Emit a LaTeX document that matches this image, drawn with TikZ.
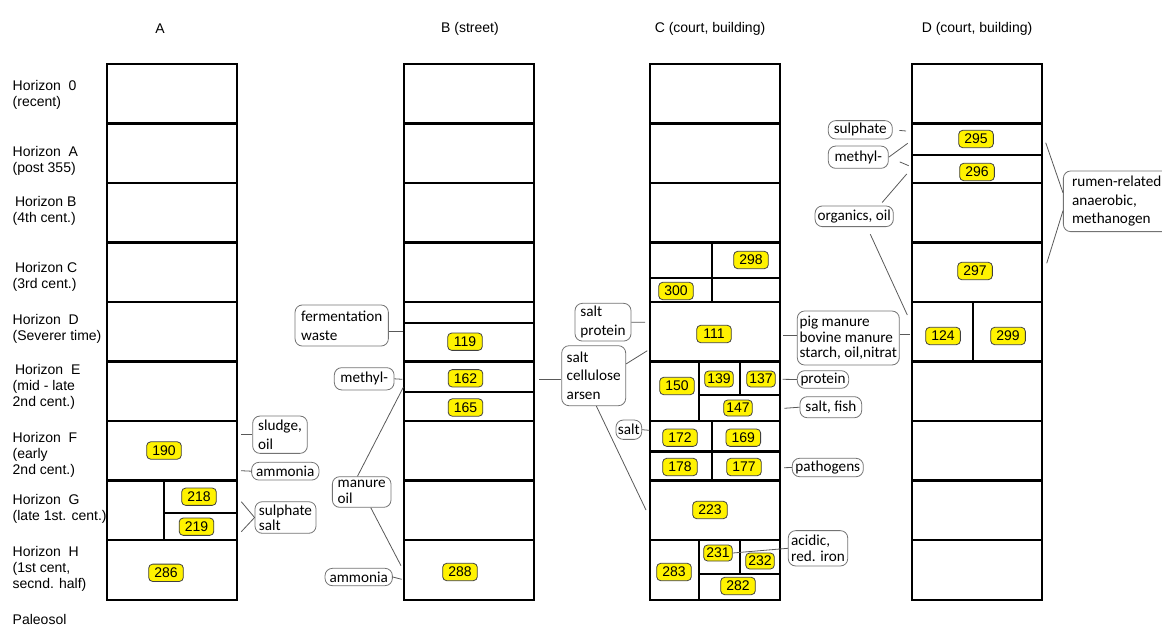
\documentclass[tikz,border=0pt]{standalone}
\usepackage{fontspec}
\setmainfont{Liberation Sans}
\newfontfamily\calib{Carlito}
\usepackage{tikz}

\begin{document}
\begin{tikzpicture}[x=0.75pt,y=-0.75pt,font=\fontsize{10.5}{12}\selectfont,
  col/.style={line width=2.1pt},
  num/.style={draw=black!75,fill=yellow,rounded corners=3pt,line width=0.6pt,minimum width=26pt,minimum height=13pt,inner sep=0pt},
  smallnum/.style={num,minimum width=21.5pt,minimum height=12pt},
  bubble/.style={draw=black!55,line width=0.6pt,rounded corners=5.5pt,align=left,inner sep=2pt,font=\calib\fontsize{11.4}{14}\selectfont},
  tightbubble/.style={bubble,font=\calib\fontsize{11.4}{11.5}\selectfont},
  wire/.style={black!65,line width=0.6pt}]
\useasboundingbox (0,0) rectangle (1162,628);

\node (hA) at (160,29) {A};
\node (hB) at (470,29) {B (street)};
\node (hC) at (710,29) {C (court, building)};
\node (hD) at (977,29) {D (court, building)};

\node [right,align=left] (h0) at (8,94.5) {Horizon~~0\\(recent)};
\node [right,align=left] (hzA) at (8,161) {Horizon~~A\\(post 355)};
\node [right,align=left] (hzB) at (8,210.5) {\,Horizon B\\(4th cent.)};
\node [right,align=left] (hzC) at (8,276.5) {\,Horizon C\\(3rd cent.)};
\node [right,align=left] (hzD) at (8,328.7) {Horizon~~D\\(Severer time)};
\node [right,align=left] (hzE) at (8,387) {\,Horizon~~E\\(mid - late\\2nd cent.)};
\node [right,align=left] (hzF) at (8,454.4) {Horizon~~F\\(early\\2nd cent.)};
\node [right,align=left] (hzG) at (8,509) {Horizon~~G\\(late 1st. cent.)};
\node [right,align=left] (hzH) at (8,569.3) {Horizon~~H\\(1st cent,\\secnd. half)};
\node [right] (paleo) at (8,619.5) {Paleosol};

\foreach \x in {107,404,650,912} {
  \draw [col] (\x,64) rectangle ++(130,536);
  \foreach \y in {123.5,183,242.5,302,361.5,421,480.5,540}
    \draw [col] (\x,\y) -- ++(130,0);
}
\draw [col] (164,480.5) -- (164,540) (164,513) -- (237,513);
\draw [col] (404,323) -- (534,323) (404,392) -- (534,392);
\draw [col] (712,242.5) -- (712,302) (650,278) -- (780,278);
\draw [col] (699,361.5) -- (699,421) (699,395) -- (780,395) (740,361.5) -- (740,395);
\draw [col] (650,451.5) -- (780,451.5) (712,421) -- (712,480.5);
\draw [col] (699,540) -- (699,600) (699,574) -- (780,574) (740,540) -- (740,574);
\draw [col] (912,155) -- (1042,155) (973,302) -- (973,361.5);

\node [num] (n190) at (164,450.5) {190};
\node [num] (n218) at (199,496.7) {218};
\node [num] (n219) at (196.5,526.7) {219};
\node [num] (n286) at (166,572.8) {286};

\node [num] (n119) at (465,341.7) {119};
\node [num] (n162) at (465.5,378.3) {162};
\node [num] (n165) at (465.5,407.5) {165};
\node [num] (n288) at (460,572) {288};

\node [num] (n298) at (751,260) {298};
\node [num] (n300) at (676,291) {300};
\node [num] (n111) at (714,334) {111};
\node [num] (n150) at (677,386) {150};
\node [smallnum] (n139) at (719,379) {139};
\node [smallnum] (n137) at (761,379) {137};
\node [smallnum] (n147) at (738,408) {147};
\node [num] (n172) at (680,437.7) {172};
\node [num] (n169) at (743.3,437.7) {169};
\node [num] (n178) at (680,467) {178};
\node [num] (n177) at (744,467) {177};
\node [num] (n223) at (710,510) {223};
\node [num] (n283) at (674,572) {283};
\node [smallnum] (n231) at (718,553) {231};
\node [smallnum] (n232) at (760,561) {232};
\node [num] (n282) at (738,586) {282};

\node [num] (n295) at (976,139) {295};
\node [num] (n296) at (977,172) {296};
\node [num] (n297) at (975,271) {297};
\node [num] (n124) at (943,336) {124};
\node [num] (n299) at (1008,336) {299};

\node [bubble,minimum width=41pt,minimum height=28pt] (sludge) at (280,434.7) {sludge,\\oil};
\node [bubble,minimum width=50.5pt,minimum height=13.3pt] (ammA) at (285.3,471.2) {ammonia};
\node [tightbubble,minimum width=45.8pt,minimum height=23.7pt] (sulph) at (285.5,517.5) {sulphate\\salt};
\node [bubble,minimum width=70pt,minimum height=30.8pt] (ferm) at (341.7,325.5) {fermentation\\waste};
\node [bubble,minimum width=44.8pt,minimum height=16.7pt] (methB) at (364.2,378.8) {methyl-};
\node [tightbubble,minimum width=44pt,minimum height=23pt] (manure) at (361.7,492) {manure\\oil};
\node [bubble,minimum width=50.5pt,minimum height=13pt] (ammB) at (358.7,577) {ammonia};
\node [bubble,minimum width=42pt,minimum height=28.3pt] (saltprot) at (603,322.2) {salt\\protein};
\node [bubble,minimum width=48pt,minimum height=45pt] (sca) at (593.7,375.7) {salt\\cellulose\\arsen};
\node [bubble,minimum width=19.3pt,minimum height=14.5pt,inner sep=1pt] (saltC) at (628.8,429.7) {salt};
\node [tightbubble,minimum width=76.5pt,minimum height=40.5pt,inner sep=1pt] (pig) at (848.3,338) {pig manure\\bovine manure\\starch, oil,nitrat};
\node [bubble,minimum width=38.5pt,minimum height=13.2pt,inner sep=1pt] (prot) at (823,379.5) {protein};
\node [bubble,minimum width=46.3pt,minimum height=15.8pt] (fish) at (830.8,407.2) {salt, fish};
\node [bubble,minimum width=53.3pt,minimum height=13.8pt,inner sep=1pt] (path) at (827.8,467.5) {pathogens};
\node [tightbubble,minimum width=44.6pt,minimum height=26.5pt] (acid) at (818,548.3) {acidic,\\red. iron};
\node [bubble,minimum width=48pt,minimum height=13.7pt] (sulD) at (860.3,129.8) {sulphate};
\node [bubble,minimum width=45pt,minimum height=16.7pt] (methD) at (858.3,157.2) {methyl-};
\node [bubble,minimum width=58.7pt,minimum height=15.5pt,inner sep=1pt] (org) at (854.2,216.3) {organics, oil};
\node [bubble,minimum width=80pt,minimum height=45.5pt] (rumen) at (1116.7,201.3) {rumen-related\\anaerobic,\\methanogen};

\coordinate (aF1) at (241,434);
\coordinate (aF2) at (241,470.7);
\coordinate (aG1) at (241.3,501.7);
\coordinate (aG2) at (241.3,531.7);
\coordinate (bD1) at (402.7,331.7);
\coordinate (bE1) at (402.3,379.3);
\coordinate (bE2) at (403.3,387.3);
\coordinate (bE3) at (539.3,379.3);
\coordinate (bH1) at (401,565.7);
\coordinate (bH2) at (401.7,579.3);
\coordinate (cD1) at (645,322.3);
\coordinate (cD2) at (647.3,350.7);
\coordinate (cD3) at (782.7,335.7);
\coordinate (cE1) at (782.7,379.3);
\coordinate (cE2) at (784.3,408.3);
\coordinate (cF1) at (649.3,430.3);
\coordinate (cF2) at (784,467.7);
\coordinate (cG1) at (646,510);
\coordinate (dA1) at (906,131);
\coordinate (dA2) at (907.7,143.3);
\coordinate (dA3) at (908.7,165.7);
\coordinate (dA4) at (906.7,174);
\coordinate (dA5) at (1045.7,142.7);
\coordinate (dC1) at (1046.7,263.3);
\coordinate (dD1) at (910,334.3);
\coordinate (dD2) at (907.3,315);

\draw [wire] (sludge.west |- aF1) -- (aF1);
\draw [wire] (ammA.west) -- (aF2);
\draw [wire] (sulph.west) -- (aG1) (sulph.west) -- (aG2);
\draw [wire] (ferm.east |- bD1) -- (bD1);
\draw [wire] (methB.east) -- (bE1);
\draw [wire] (manure.105) -- (bE2) (manure.-60) -- (bH1);
\draw [wire] (ammB.east) -- (bH2);
\draw [wire] (bE3) -- (sca.west |- bE3);
\draw [wire] (saltprot.east) -- (cD1);
\draw [wire] (sca.20) -- (cD2) (sca.-85) -- (cG1);
\draw [wire] (saltC.east) -- (cF1);
\draw [wire] (pig.west |- cD3) -- (cD3) (pig.east |- dD1) -- (dD1);
\draw [wire] (prot.west) -- (cE1);
\draw [wire] (fish.west) -- (cE2);
\draw [wire] (path.west) -- (cF2);
\draw [wire] (n231.east) -- (acid.west);
\draw [wire,shorten <=5pt] (sulD.east) -- (dA1);
\draw [wire,shorten <=9pt] (methD.east) -- (dA2) (methD.east) -- (dA3);
\draw [wire,shorten <=3pt] (org.23) -- (dA4);
\draw [wire,shorten <=6pt] (org.-40) -- (dD2);
\draw [wire] (rumen.171) -- (dA5) (rumen.190) -- (dC1);
\end{tikzpicture}
\end{document}
